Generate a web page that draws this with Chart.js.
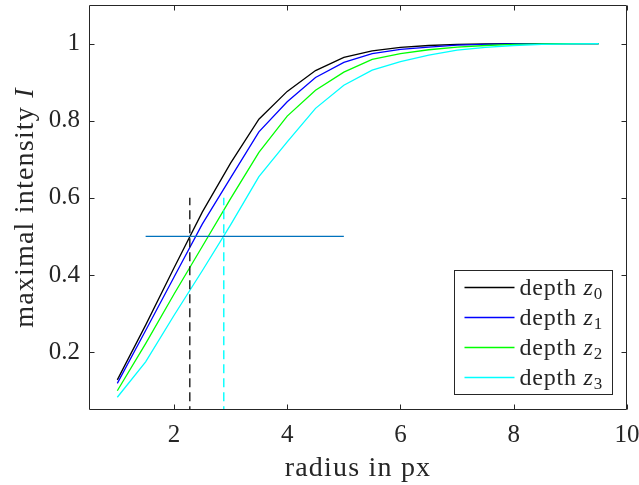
<!DOCTYPE html>
<html>
<head>
<meta charset="utf-8">
<script src="https://cdn.jsdelivr.net/npm/chart.js@4.4.1/dist/chart.umd.min.js"></script>
<style>
  html, body { margin: 0; padding: 0; background: #fff; }
  #wrap { width: 639px; height: 485px; }
</style>
</head>
<body>
<div id="wrap"><canvas id="chartRadius" width="639" height="485"></canvas></div>
<script>
// radius (px) sampled every half pixel
const radius = [1, 1.5, 2, 2.5, 3, 3.5, 4, 4.5, 5, 5.5, 6, 6.5, 7, 7.5, 8, 8.5, 9, 9.5];
const depthZ0 = [0.128, 0.270, 0.418, 0.563, 0.690, 0.804, 0.876, 0.930, 0.964, 0.981, 0.990, 0.995, 0.998, 0.999, 1.000, 1.000, 1.000, 1.000];
const depthZ1 = [0.119, 0.256, 0.394, 0.532, 0.652, 0.771, 0.849, 0.912, 0.951, 0.974, 0.985, 0.991, 0.996, 0.998, 0.999, 1.000, 1.000, 1.000];
const depthZ2 = [0.100, 0.222, 0.350, 0.474, 0.598, 0.718, 0.812, 0.879, 0.926, 0.959, 0.974, 0.984, 0.991, 0.995, 0.998, 0.999, 1.000, 1.000];
const depthZ3 = [0.083, 0.175, 0.295, 0.411, 0.530, 0.655, 0.745, 0.832, 0.892, 0.931, 0.953, 0.970, 0.983, 0.990, 0.995, 0.998, 0.999, 1.000];
const seriesNames = ["depth z\u2080", "depth z\u2081", "depth z\u2082", "depth z\u2083"];
const seriesSubs = ["0", "1", "2", "3"];
const seriesColors = ["#000000", "#0000ff", "#00ff00", "#00ffff"];

// half-maximum markers
const halfLevel = [0.5, 0.5];
const halfRange = [1.5, 5];
const crossZ0 = [2.28, 2.28];
const crossZ3 = [2.88, 2.88];
const markerSpan = [0, 0.6];

const xTicks = [2, 4, 6, 8, 10];
const yTicks = [0.2, 0.4, 0.6, 0.8, 1];

const SERIF = "'Liberation Serif', 'DejaVu Serif', serif";
const AXIS_COLOR = "#262626";

function toPoints(xs, ys) {
  return xs.map(function (x, i) { return { x: x, y: ys[i] }; });
}

let datasets = [];
[depthZ0, depthZ1, depthZ2, depthZ3].forEach(function (vals, i) {
  datasets.push({
    label: seriesNames[i],
    data: toPoints(radius, vals),
    borderColor: seriesColors[i],
    borderWidth: 1.3,
    pointRadius: 0,
    order: 5 - i,
  });
});
datasets.push({
  label: "z0 crossing",
  data: toPoints(crossZ0, markerSpan),
  borderColor: "#1a1a1a",
  borderWidth: 1.4,
  borderDash: [9, 5],
  pointRadius: 0,
  order: 1,
});
datasets.push({
  label: "z3 crossing",
  data: toPoints(crossZ3, markerSpan),
  borderColor: "#00ffff",
  borderWidth: 1.4,
  borderDash: [9, 5],
  pointRadius: 0,
  order: 1,
});
datasets.push({
  label: "half level",
  data: toPoints(halfRange, halfLevel),
  borderColor: "#0072bd",
  borderWidth: 1.2,
  pointRadius: 0,
  order: 0,
});

// box, inward ticks, axis titles and legend in the matlab look
const matlabFrame = {
  id: "matlabFrame",
  afterDraw(chart) {
    const ctx = chart.ctx;
    const a = chart.chartArea;
    const sx = chart.scales.x;
    const sy = chart.scales.y;
    const L = Math.round(a.left) + 0.5, R = Math.round(a.right) - 0.5;
    const T = Math.round(a.top) + 0.5, B = Math.round(a.bottom) - 0.5;
    ctx.save();
    ctx.strokeStyle = AXIS_COLOR;
    ctx.lineWidth = 1;
    ctx.beginPath();
    ctx.rect(L, T, R - L, B - T);
    xTicks.forEach(function (v) {
      const px = Math.round(sx.getPixelForValue(v)) + 0.5;
      ctx.moveTo(px, B); ctx.lineTo(px, B - 5);
      ctx.moveTo(px, T); ctx.lineTo(px, T + 5);
    });
    yTicks.forEach(function (v) {
      const py = Math.round(sy.getPixelForValue(v)) + 0.5;
      ctx.moveTo(L, py); ctx.lineTo(L + 5, py);
      ctx.moveTo(R, py); ctx.lineTo(R - 5, py);
    });
    ctx.stroke();

    // x title
    ctx.fillStyle = AXIS_COLOR;
    ctx.font = "28px " + SERIF;
    ctx.letterSpacing = "1.2px";
    ctx.textAlign = "center";
    ctx.textBaseline = "alphabetic";
    ctx.fillText("radius in px", (a.left + a.right) / 2, 476);

    // y title with italic I
    ctx.save();
    ctx.translate(33, (a.top + a.bottom) / 2);
    ctx.rotate(-Math.PI / 2);
    ctx.textAlign = "left";
    const part1 = "maximal intensity ";
    ctx.font = "28px " + SERIF;
    const w1 = ctx.measureText(part1).width;
    ctx.font = "italic 28px " + SERIF;
    const w2 = ctx.measureText("I").width;
    let x0 = -(w1 + w2) / 2;
    ctx.font = "28px " + SERIF;
    ctx.fillText(part1, x0, 0);
    ctx.font = "italic 28px " + SERIF;
    ctx.fillText("I", x0 + w1, 0);
    ctx.restore();

    // legend
    const boxW = 158, boxH = 124;
    const bx = Math.round(a.right - 15 - boxW) + 0.5;
    const by = Math.round(a.bottom - 16 - boxH) + 0.5;
    ctx.fillStyle = "#ffffff";
    ctx.fillRect(bx, by, boxW, boxH);
    ctx.strokeStyle = AXIS_COLOR;
    ctx.lineWidth = 1;
    ctx.strokeRect(bx, by, boxW, boxH);
    ctx.textAlign = "left";
    ctx.letterSpacing = "0.8px";
    for (let i = 0; i < 4; i++) {
      const ly = Math.round(by + 16.5 + i * 30) + 0.5;
      ctx.strokeStyle = seriesColors[i];
      ctx.lineWidth = 1.3;
      ctx.beginPath();
      ctx.moveTo(bx + 10, ly);
      ctx.lineTo(bx + 60, ly);
      ctx.stroke();
      ctx.fillStyle = AXIS_COLOR;
      let tx = bx + 65;
      ctx.font = "24px " + SERIF;
      ctx.fillText("depth ", tx, ly + 7);
      tx += ctx.measureText("depth ").width;
      ctx.font = "italic 24px " + SERIF;
      ctx.fillText("z", tx, ly + 7);
      tx += ctx.measureText("z").width;
      ctx.font = "17px " + SERIF;
      ctx.fillText(seriesSubs[i], tx, ly + 11);
    }
    ctx.restore();
  },
};

const ctx = document.getElementById("chartRadius").getContext("2d");
const chartRadius = new Chart(ctx, {
  type: "line",
  data: { datasets: datasets },
  plugins: [matlabFrame],
  options: {
    responsive: false,
    animation: false,
    devicePixelRatio: 1,
    layout: { padding: { top: 5, right: 12, left: 0, bottom: 0 } },
    plugins: { legend: { display: false }, tooltip: { enabled: false } },
    elements: { line: { tension: 0 } },
    scales: {
      x: {
        type: "linear",
        min: 0.5,
        max: 10,
        grid: { display: false, drawTicks: false },
        border: { display: false },
        afterBuildTicks: function (scale) {
          scale.ticks = xTicks.map(function (v) { return { value: v }; });
        },
        afterFit: function (scale) {
          scale.height = 75;
          scale.paddingLeft = 0;
          scale.paddingRight = 0;
        },
        ticks: {
          autoSkip: false,
          maxRotation: 0,
          padding: 10,
          color: AXIS_COLOR,
          font: { family: SERIF, size: 25 },
          callback: function (v) { return String(v); },
        },
      },
      y: {
        type: "linear",
        min: 0.05,
        max: 1.1,
        grid: { display: false, drawTicks: false },
        border: { display: false },
        afterBuildTicks: function (scale) {
          scale.ticks = yTicks.map(function (v) { return { value: v }; });
        },
        afterFit: function (scale) {
          scale.width = 89;
          scale.paddingTop = 0;
          scale.paddingBottom = 0;
        },
        ticks: {
          autoSkip: false,
          padding: 9,
          color: AXIS_COLOR,
          font: { family: SERIF, size: 25 },
          callback: function (v) { return String(v); },
        },
      },
    },
  },
});
</script>
</body>
</html>
